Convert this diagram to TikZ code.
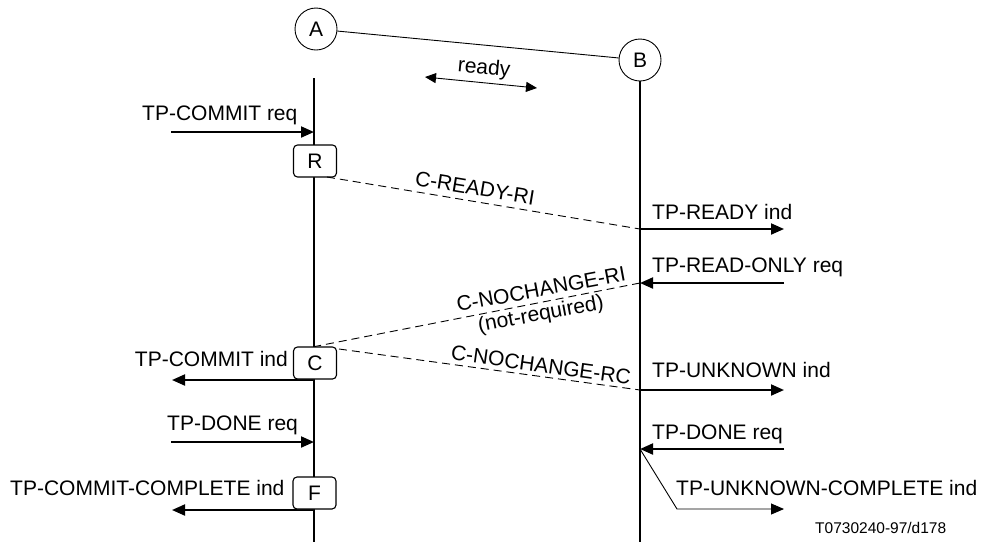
\documentclass[tikz,border=0pt]{standalone}
\usepackage{fontspec}
\setmainfont{Liberation Sans}
\usetikzlibrary{arrows.meta}
\begin{document}
\begin{tikzpicture}[x=1pt,y=-1pt,
  lbl/.style={inner sep=0pt, font=\fontsize{21}{24}\selectfont},
  small/.style={inner sep=0pt, font=\fontsize{15.5}{18}\selectfont},
  ent/.style={draw, circle, line width=0.9pt, minimum size=42pt, inner sep=0pt, font=\fontsize{21}{24}\selectfont},
  statebox/.style={draw, fill=white, rounded corners=4pt, line width=1.1pt, minimum width=43pt, minimum height=32pt, inner sep=0pt, font=\fontsize{21}{24}\selectfont},
  life/.style={line width=2pt},
  prim/.style={line width=2pt, -{Triangle[length=13pt,width=11pt]}},
  pdu/.style={line width=0.9pt, dash pattern=on 8pt off 5pt},
  thin/.style={line width=0.9pt}
]
\useasboundingbox (0,0) rectangle (981,542);

% entities
\node[ent] (A) at (316,29) {A};
\node[ent] (B) at (640,60) {B};
\draw[thin] (A) -- (B);

% ready
\coordinate (r1) at (425,77);
\coordinate (r2) at (537,88);
\draw[thin, {Triangle[length=11pt,width=10pt]}-{Triangle[length=11pt,width=10pt]}] (r1) -- (r2);
\node[lbl, rotate=-5.6] (readyl) at (484,69) {ready};

% lifelines
\coordinate (aTop) at (314,78);
\coordinate (aBot) at (314,542);
\coordinate (bBot) at (640,542);
\draw[life] (aTop) -- (aBot);
\draw[life] (B.south) -- (bBot);

% lifeline points
\coordinate (a1) at (314,132);
\coordinate (a2) at (314,380);
\coordinate (a3) at (314,442);
\coordinate (a4) at (314,510);
\coordinate (b1) at (640,229);
\coordinate (b2) at (640,283);
\coordinate (b3) at (640,390);
\coordinate (b4) at (640,449);

% free ends
\coordinate (l1) at (171,132);
\coordinate (l2) at (172,380);
\coordinate (l3) at (171,442);
\coordinate (l4) at (172,510);
\coordinate (r1e) at (784,229);
\coordinate (r2e) at (784,283);
\coordinate (r3e) at (784,390);
\coordinate (r4e) at (784,449);
\coordinate (bend) at (677,509);
\coordinate (r5e) at (784,509);

% primitives A side
\draw[prim] (l1) -- (a1);
\node[lbl, anchor=base west] (t1) at (142,120) {TP-COMMIT req};
\draw[prim] (a2) -- (l2);
\node[lbl, anchor=base east] (t2) at (288,366) {TP-COMMIT ind};
\draw[prim] (l3) -- (a3);
\node[lbl, anchor=base west] (t3) at (167,430) {TP-DONE req};
\draw[prim] (a4) -- (l4);
\node[lbl, anchor=base west] (t4) at (10,495) {TP-COMMIT-COMPLETE ind};

% state boxes
\node[statebox] (R) at (315,161) {R};
\node[statebox] (C) at (315,363) {C};
\node[statebox] (F) at (314.5,493) {F};

% primitives B side
\draw[prim] (b1) -- (r1e);
\node[lbl, anchor=base west] (t5) at (652,219) {TP-READY ind};
\draw[prim] (r2e) -- (b2);
\node[lbl, anchor=base west] (t6) at (652,272) {TP-READ-ONLY req};
\draw[prim] (b3) -- (r3e);
\node[lbl, anchor=base west] (t7) at (652,377) {TP-UNKNOWN ind};
\draw[prim] (r4e) -- (b4);
\node[lbl, anchor=base west] (t8) at (652,439) {TP-DONE req};
\draw[thin, -{Triangle[length=13pt,width=11pt]}] (b4) -- (bend) -- (r5e);
\node[lbl, anchor=base west] (t9) at (676,495) {TP-UNKNOWN-COMPLETE ind};

% PDUs
\coordinate (rs) at (327,177);
\coordinate (cs) at (339,349);
\draw[pdu] (rs) -- (b1);
\node[lbl, rotate=-9.4] (p1) at (475,188) {C-READY-RI};
\draw[pdu] (b2) -- (C.north);
\node[lbl, rotate=10.6] (p2) at (541,289) {C-NOCHANGE-RI};
\node[lbl, rotate=10.6] (p3) at (541,315) {(not-required)};
\draw[pdu] (cs) -- (b3);
\node[lbl, rotate=-7.8] (p4) at (541,365) {C-NOCHANGE-RC};

\node[small, anchor=base west] (ref) at (815,533.5) {T0730240-97/d178};
\end{tikzpicture}
\end{document}
